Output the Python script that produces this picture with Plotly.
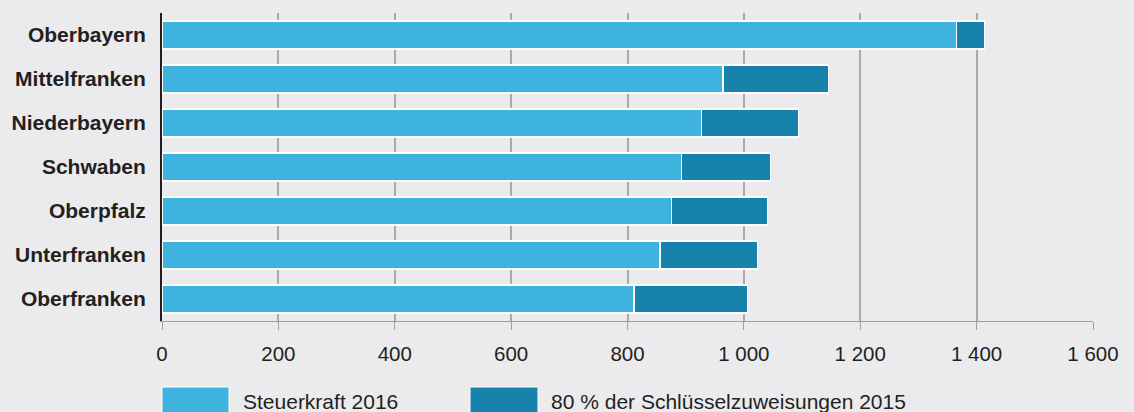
import plotly.graph_objects as go

regions = ["Oberbayern", "Mittelfranken", "Niederbayern", "Schwaben",
           "Oberpfalz", "Unterfranken", "Oberfranken"]
steuerkraft_2016 = [1366, 964, 927, 893, 876, 856, 811]
schluessel_80_2015 = [48, 181, 167, 153, 165, 168, 195]
x_tickvals = [0, 200, 400, 600, 800, 1000, 1200, 1400, 1600]
x_ticktext = ["0", "200", "400", "600", "800", "1 000", "1 200", "1 400", "1 600"]
legend_names = ["Steuerkraft 2016", "80 % der Schlüsselzuweisungen 2015"]

c_light = "#3db3de"
c_dark = "#1783ad"
bg = "#ebebed"
txt = "#231f20"
font = "Liberation Sans, Arial, Helvetica, sans-serif"

fig = go.Figure()
fig.add_trace(go.Bar(y=regions, x=steuerkraft_2016, orientation="h", name=legend_names[0],
                     marker=dict(color=c_light, line=dict(color="white", width=1.2)), width=0.64))
fig.add_trace(go.Bar(y=regions, x=schluessel_80_2015, orientation="h", name=legend_names[1],
                     marker=dict(color=c_dark, line=dict(color="white", width=1.2)), width=0.64))

W, H = 1134, 412
L, R, T, B = 162, 1093, 13, 321
pw, ph = R - L, B - T

legend_items = [(162, 229, 243, c_light, legend_names[0]), (470, 538, 551, c_dark, legend_names[1])]
for x0, x1, tx, col, name in legend_items:
    fig.add_shape(type="rect", xref="paper", yref="paper",
                  x0=(x0 - L) / pw, x1=(x1 - L) / pw,
                  y0=(B - 416) / ph, y1=(B - 387) / ph,
                  fillcolor=col, line=dict(color="white", width=1))
    fig.add_annotation(xref="paper", yref="paper", x=(tx - L) / pw, y=(B - 401) / ph,
                       text=name, showarrow=False, xanchor="left", yanchor="middle",
                       xshift=-2, font=dict(family=font, size=21, color=txt))

fig.update_layout(
    barmode="stack",
    width=W, height=H,
    margin=dict(l=L, r=W - R, t=T, b=H - B, pad=0, autoexpand=False),
    paper_bgcolor=bg, plot_bgcolor=bg,
    showlegend=False,
    font=dict(family=font, size=21, color=txt),
    xaxis=dict(range=[0, 1600], tickvals=x_tickvals, ticktext=x_ticktext,
               automargin=False,
               showgrid=True, gridcolor="#aaaaaa", gridwidth=1.5,
               zeroline=False, showline=True, linecolor="#a0a0a0", linewidth=1,
               ticks="outside", ticklen=8, tickcolor="#a0a0a0", tickwidth=1,
               ticklabelstandoff=6,
               tickfont=dict(size=20.5, color=txt), fixedrange=True),
    yaxis=dict(categoryorder="array", categoryarray=regions[::-1],
               automargin=False,
               showline=True, linecolor=txt, linewidth=2,
               ticks="", ticklabelstandoff=10,
               tickfont=dict(size=21, color=txt, family=font, weight="bold"),
               showgrid=False, fixedrange=True),
)

fig.write_html("out.html", config={"displayModeBar": False},
               post_script="document.body.style.margin='0';document.body.style.background='%s';" % bg)
